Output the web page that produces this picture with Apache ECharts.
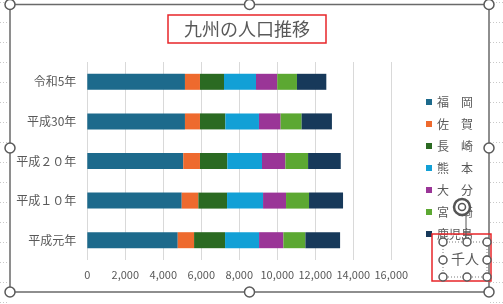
<!DOCTYPE html>
<html>
<head>
<meta charset="utf-8">
<title>九州の人口推移</title>
<script src="https://cdn.jsdelivr.net/npm/echarts@6/dist/echarts.min.js"></script>
<style>
html, body { margin: 0; padding: 0; background: #fff; }
#main { width: 503px; height: 304px; }
</style>
</head>
<body>
<div id="main"></div>
<script>
// 数据（千人）
var categories = ['平成元年', '平成１０年', '平成２０年', '平成30年', '令和5年'];
var names = ['福　岡', '佐　賀', '長　崎', '熊　本', '大　分', '宮　崎', '鹿児島'];
var fukuoka = [4760, 4970, 5050, 5140, 5140];
var saga = [860, 875, 880, 790, 790];
var nagasaki = [1630, 1510, 1440, 1335, 1265];
var kumamoto = [1790, 1895, 1825, 1770, 1685];
var oita = [1280, 1210, 1230, 1140, 1120];
var miyazaki = [1160, 1210, 1195, 1105, 1035];
var kagoshima = [1825, 1790, 1720, 1595, 1545];
var colors = ['#1d6a8c', '#ee6a2e', '#2b6a22', '#12a0d6', '#9a3597', '#5ca832', '#17395a'];

var font = "'Noto Sans CJK JP', 'Noto Sans', sans-serif";
var chart = echarts.init(document.getElementById('main'), null, { renderer: 'canvas' });

var values = [fukuoka, saga, nagasaki, kumamoto, oita, miyazaki, kagoshima];
var series = [];
for (var i = 0; i < names.length; i++) {
	series.push({
		name: names[i],
		type: 'bar',
		stack: 'total',
		barWidth: 16,
		data: values[i],
		itemStyle: { color: colors[i] },
		emphasis: { disabled: true }
	});
}

// 选择框的小圆点
function handle(x, y, r) {
	return {
		type: 'circle',
		shape: { cx: x, cy: y, r: r },
		style: { fill: '#fff', stroke: '#5a5a5a', lineWidth: 1.5 },
		z: 100
	};
}

// 背景表格线
var sheet = [];
for (var y = 2.5; y < 304; y += 20) {
	sheet.push({ type: 'line', shape: { x1: 0, y1: y, x2: 9, y2: y }, style: { stroke: '#c8c8c8', lineDash: [1, 2] }, z: 0 });
	sheet.push({ type: 'line', shape: { x1: 490, y1: y, x2: 503, y2: y }, style: { stroke: '#c8c8c8', lineDash: [1, 2] }, z: 0 });
}

var graphics = sheet.concat([
	// 外框
	{ type: 'rect', shape: { x: 10, y: 4.5, width: 479, height: 287.5 }, style: { fill: null, stroke: '#6a6a6a', lineWidth: 1.5 }, z: 50 },
	// 单位
	{ type: 'rect', shape: { x: 432, y: 234, width: 59, height: 47 }, style: { fill: null, stroke: '#e8262a', lineWidth: 1.5 }, z: 60 },
	{ type: 'rect', shape: { x: 443, y: 242, width: 44, height: 35 }, style: { fill: null, stroke: '#7a7a7a', lineWidth: 1, lineDash: [1, 2] }, z: 61 },
	{ type: 'text', left: 451, top: 252, style: { text: '千人', font: '14px ' + font, fill: '#595959' }, z: 62 },
	{ type: 'circle', shape: { cx: 462, cy: 207, r: 8 }, style: { fill: '#fff', stroke: '#555', lineWidth: 2.5 }, z: 100 },
	{ type: 'circle', shape: { cx: 462, cy: 207, r: 3.5 }, style: { fill: '#fff', stroke: '#555', lineWidth: 1.5 }, z: 101 },
	{ type: 'line', shape: { x1: 466, y1: 215, x2: 466, y2: 242 }, style: { stroke: '#555', lineWidth: 1 }, z: 99 },
	handle(10, 4.5, 5), handle(249.5, 4.5, 5), handle(489, 4.5, 5),
	handle(10, 148, 5), handle(489, 148, 5),
	handle(10, 292, 5), handle(249.5, 292, 5), handle(489, 292, 5),
	handle(443, 242, 4), handle(467, 242, 4), handle(487, 242, 4),
	handle(443, 260, 4), handle(487, 260, 4),
	handle(443, 277, 4), handle(467, 277, 4), handle(487, 277, 4)
]);

var option = {
	animation: false,
	textStyle: { fontFamily: font },
	title: {
		text: '九州の人口推移',
		left: 168,
		top: 15,
		padding: [5, 16, 5, 16],
		borderColor: '#e8262a',
		borderWidth: 1.5,
		textStyle: { fontFamily: font, fontSize: 18, fontWeight: 'normal', color: '#595959' }
	},
	legend: {
		orient: 'vertical',
		left: 426,
		top: 96,
		padding: 0,
		itemWidth: 6,
		itemHeight: 6,
		itemGap: 10,
		icon: 'rect',
		data: names,
		textStyle: { fontFamily: font, fontSize: 12, lineHeight: 12, color: '#595959' }
	},
	grid: { left: 87.3, right: 111.7, top: 62, bottom: 44 },
	xAxis: {
		type: 'value',
		min: 0,
		max: 16000,
		interval: 2000,
		axisLine: { show: false },
		axisTick: { show: false },
		splitLine: { lineStyle: { color: '#d9d9d9', width: 1 } },
		axisLabel: {
			color: '#595959',
			fontSize: 11,
			margin: 9,
			fontFamily: font,
			formatter: function(v) { return v.toLocaleString('en-US'); }
		}
	},
	yAxis: {
		type: 'category',
		data: categories,
		axisLine: { show: false },
		axisTick: { show: false },
		axisLabel: { color: '#595959', fontSize: 12, margin: 11, fontFamily: font }
	},
	graphic: graphics,
	series: series
};

chart.setOption(option);
window.onresize = function() {
	chart.resize();
};
</script>
</body>
</html>
